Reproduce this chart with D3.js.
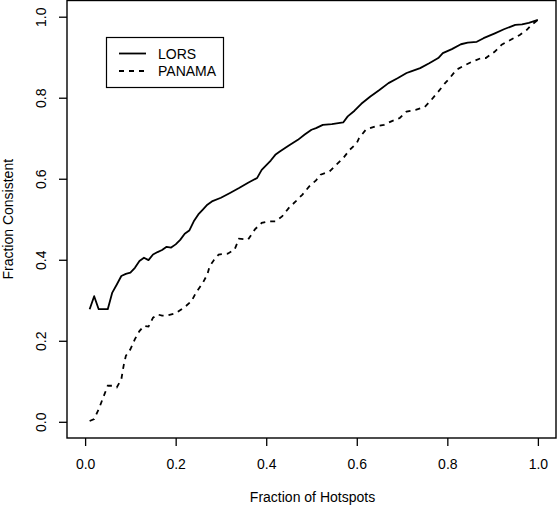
<!DOCTYPE html>
<html>
<head>
<meta charset="utf-8">
<script src="https://cdn.jsdelivr.net/npm/d3@7"></script>
<style>
  html, body { margin: 0; padding: 0; background: #fff; }
  svg { display: block; }
  text { font-family: "Liberation Sans", Arial, Helvetica, sans-serif; fill: #000; }
</style>
</head>
<body>
<svg id="chart" width="557" height="508"></svg>
<script>
// ---- data ----
const lorsX = [0.01,0.02,0.03,0.04,0.05,0.06,0.07,0.08,0.09,0.10,
  0.11,0.12,0.13,0.14,0.15,0.16,0.17,0.18,0.19,0.20,
  0.21,0.22,0.23,0.24,0.25,0.26,0.27,0.28,0.30,0.32,
  0.34,0.36,0.38,0.39,0.41,0.42,0.43,0.45,0.47,0.485,
  0.50,0.51,0.525,0.545,0.57,0.58,0.595,0.61,0.63,0.65,
  0.67,0.69,0.71,0.72,0.74,0.76,0.78,0.79,0.81,0.83,
  0.845,0.865,0.88,0.905,0.925,0.95,0.965,0.98,1.0];
const lorsY = [0.278,0.31,0.278,0.278,0.278,0.319,0.339,0.36,0.365,0.368,
  0.38,0.397,0.405,0.399,0.413,0.419,0.424,0.432,0.43,0.438,
  0.449,0.464,0.472,0.495,0.512,0.524,0.536,0.544,0.553,0.565,
  0.577,0.59,0.602,0.622,0.645,0.659,0.667,0.682,0.696,0.709,
  0.721,0.725,0.733,0.735,0.739,0.754,0.768,0.785,0.803,0.819,
  0.836,0.848,0.861,0.865,0.873,0.885,0.898,0.91,0.92,0.932,
  0.936,0.938,0.947,0.959,0.969,0.98,0.981,0.985,0.992];

const panamaX = [0.01,0.02,0.03,0.04,0.05,0.06,0.07,0.08,0.085,0.09,
  0.10,0.11,0.12,0.13,0.14,0.15,0.16,0.17,0.18,0.20,
  0.22,0.235,0.245,0.26,0.27,0.275,0.285,0.295,0.315,0.33,
  0.34,0.36,0.375,0.39,0.405,0.42,0.435,0.45,0.465,0.48,
  0.495,0.51,0.52,0.54,0.555,0.57,0.585,0.60,0.605,0.62,
  0.64,0.66,0.675,0.695,0.71,0.73,0.75,0.765,0.78,0.795,
  0.805,0.82,0.84,0.855,0.875,0.885,0.905,0.92,0.94,0.96,
  0.975,0.985,1.0];
const panamaY = [0.002,0.007,0.031,0.06,0.089,0.089,0.085,0.105,0.138,0.163,
  0.179,0.204,0.224,0.237,0.235,0.257,0.265,0.262,0.262,0.268,
  0.283,0.298,0.319,0.343,0.364,0.384,0.4,0.413,0.415,0.425,
  0.452,0.45,0.475,0.491,0.495,0.495,0.507,0.528,0.544,0.561,
  0.581,0.596,0.61,0.618,0.635,0.651,0.672,0.688,0.7,0.721,
  0.729,0.733,0.741,0.75,0.766,0.77,0.777,0.795,0.815,0.836,
  0.848,0.869,0.881,0.889,0.898,0.898,0.914,0.931,0.943,0.955,
  0.967,0.979,0.992];

const xTicks = [0.0, 0.2, 0.4, 0.6, 0.8, 1.0];
const yTicks = [0.0, 0.2, 0.4, 0.6, 0.8, 1.0];
const seriesNames = ["LORS", "PANAMA"];
const xTitle = "Fraction of Hotspots";
const yTitle = "Fraction Consistent";

// ---- layout ----
(function () {
const svg = d3.select("#chart");
const pLeft = 67, pRight = 556, pTop = 0.5, pBottom = 438;
const fs = 14;

const x = d3.scaleLinear().domain([-0.04, 1.04]).range([pLeft, pRight]);
const y = d3.scaleLinear().domain([-0.04, 1.04]).range([pBottom, pTop]);
const fmt = d3.format(".1f");

// x axis
const gx = svg.append("g").attr("transform", `translate(0,${pBottom})`)
  .call(d3.axisBottom(x).tickValues(xTicks).tickSize(8).tickFormat(fmt));
gx.select(".domain").remove();
gx.selectAll(".tick line").attr("stroke", "#000").attr("stroke-width", 1.3);
gx.selectAll(".tick text").attr("y", 31).attr("dy", 0)
  .style("font-size", fs + "px").style("font-family", "Liberation Sans, Arial, sans-serif");

// y axis
const gy = svg.append("g").attr("transform", `translate(${pLeft},0)`)
  .call(d3.axisLeft(y).tickValues(yTicks).tickSize(8).tickFormat(fmt));
gy.select(".domain").remove();
gy.selectAll(".tick line").attr("stroke", "#000").attr("stroke-width", 1.3);
gy.selectAll(".tick text")
  .attr("x", null).attr("dy", null)
  .attr("text-anchor", "middle")
  .attr("transform", "translate(-21,0) rotate(-90)")
  .style("font-size", fs + "px").style("font-family", "Liberation Sans, Arial, sans-serif");

// box
svg.append("rect")
  .attr("x", pLeft).attr("y", pTop)
  .attr("width", pRight - pLeft).attr("height", pBottom - pTop)
  .attr("fill", "none").attr("stroke", "#000").attr("stroke-width", 1.4);

// lines
const line = d3.line().x(d => x(d[0])).y(d => y(d[1]));
const lorsData = lorsX.map((v, i) => [v, lorsY[i]]);
const panamaData = panamaX.map((v, i) => [v, panamaY[i]]);

svg.append("path").datum(lorsData).attr("d", line)
  .attr("fill", "none").attr("stroke", "#000").attr("stroke-width", 1.8)
  .attr("stroke-linejoin", "round");
svg.append("path").datum(panamaData).attr("d", line)
  .attr("fill", "none").attr("stroke", "#000").attr("stroke-width", 1.8)
  .attr("stroke-dasharray", "5,5");

// titles
svg.append("text").attr("x", (pLeft + pRight) / 2 + 1).attr("y", 502)
  .attr("text-anchor", "middle").style("font-size", fs + "px").text(xTitle);
svg.append("text").attr("transform", `translate(13,${(pTop + pBottom) / 2}) rotate(-90)`)
  .attr("text-anchor", "middle").style("font-size", fs + "px").text(yTitle);

// legend
const lg = svg.append("g");
lg.append("rect").attr("x", 106.5).attr("y", 37.5).attr("width", 117).attr("height", 50)
  .attr("fill", "#fff").attr("stroke", "#000").attr("stroke-width", 1.2);
const dashes = [null, "5,5"];
seriesNames.forEach((name, i) => {
  const yy = 53.5 + i * 17.5;
  lg.append("line").attr("x1", 119).attr("x2", 146).attr("y1", yy).attr("y2", yy)
    .attr("stroke", "#000").attr("stroke-width", 1.8)
    .attr("stroke-dasharray", dashes[i]);
  lg.append("text").attr("x", 158).attr("y", yy + 5).style("font-size", fs + "px").text(name);
});
})();
</script>
</body>
</html>
